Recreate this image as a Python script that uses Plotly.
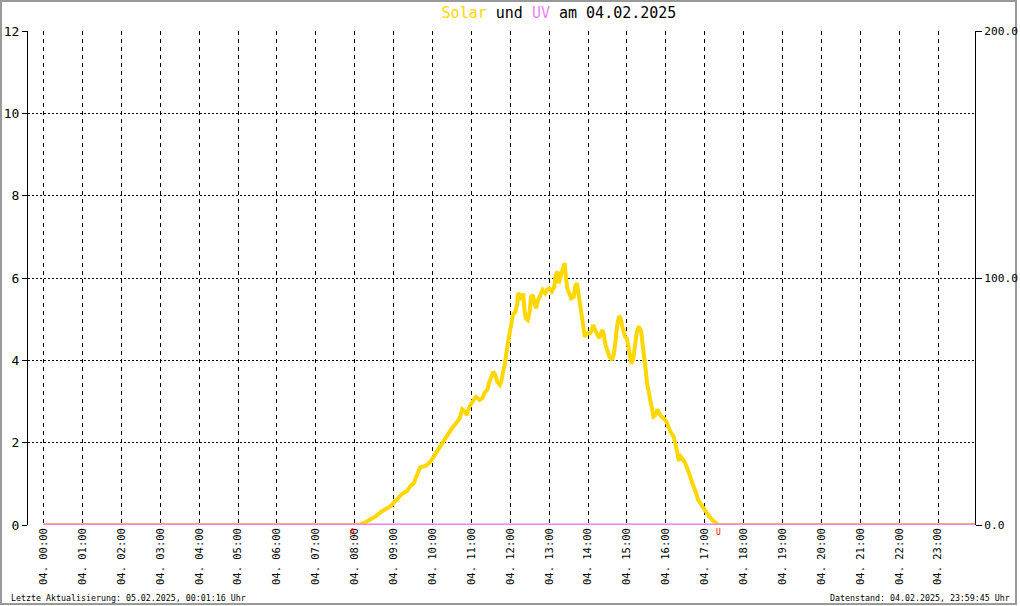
import plotly.graph_objects as go

DAY = "2025-02-04"

# Solar radiation (W/m², right axis)
solar_times = ["00:00", "08:07", "08:18", "08:25", "08:33", "08:41", "08:48", "08:56",
               "09:00", "09:06", "09:14", "09:21", "09:26", "09:31", "09:36", "09:41", "09:49", "09:57",
               "10:02", "10:09", "10:14", "10:19", "10:24", "10:30", "10:37", "10:42", "10:46", "10:50", "10:53", "10:56",
               "11:00", "11:05", "11:07", "11:13", "11:17", "11:20", "11:25", "11:27", "11:31", "11:34", "11:37",
               "11:40", "11:44", "11:46", "11:49", "11:52", "11:55", "11:59",
               "12:02", "12:04", "12:08", "12:11", "12:12", "12:15", "12:18", "12:20", "12:22", "12:24", "12:27",
               "12:30", "12:32", "12:35", "12:38", "12:40", "12:43", "12:47", "12:50", "12:54", "12:57",
               "13:00", "13:04", "13:08", "13:10", "13:13", "13:15", "13:19", "13:22", "13:24", "13:26", "13:28",
               "13:31", "13:34", "13:38", "13:40", "13:43", "13:45", "13:48", "13:50", "13:53", "13:55", "13:59",
               "14:03", "14:06", "14:08", "14:11", "14:14", "14:17", "14:22", "14:24", "14:27", "14:29", "14:33",
               "14:37", "14:40", "14:42", "14:45", "14:48", "14:50", "14:53", "14:57",
               "15:00", "15:03", "15:07", "15:10", "15:12", "15:15", "15:18", "15:22", "15:24", "15:27", "15:29",
               "15:31", "15:33", "15:35", "15:38", "15:41", "15:44", "15:47", "15:50", "15:53", "15:57",
               "16:01", "16:04", "16:07", "16:12", "16:15", "16:18", "16:20", "16:23", "16:27", "16:30", "16:34",
               "16:38", "16:42", "16:46", "16:50", "16:55", "16:59",
               "17:03", "17:07", "17:12", "17:17", "17:21", "23:59"]
solar_values = [0, 0, 1.3, 2.3, 3.6, 5.4, 6.5, 7.7,
                9.0, 10.8, 12.8, 13.8, 15.8, 16.9, 20.2, 23.4, 23.9, 25.6,
                27.7, 30.7, 32.4, 34.8, 37.1, 39.2, 41.4, 43.2, 46.8, 45.9, 44.5, 47.3,
                49.3, 51.5, 51.9, 50.6, 51.3, 53.3, 54.9, 57.4, 60.0, 62.1, 60.7,
                58.0, 56.7, 58.0, 61.9, 65.6, 71.5, 77.6,
                81.7, 85.0, 86.4, 89.8, 93.8, 93.1, 91.1, 93.8, 87.0, 83.7, 83.0,
                86.4, 92.4, 93.1, 89.1, 87.7, 91.1, 93.8, 95.1, 93.8, 95.4,
                95.8, 94.5, 96.5, 101.2, 102.6, 97.9, 101.9, 104.6, 106.0, 99.9, 95.8,
                93.8, 91.8, 92.4, 96.5, 97.9, 94.5, 89.8, 84.3, 79.0, 76.2, 77.6,
                77.6, 79.0, 81.0, 79.0, 76.9, 75.6, 79.0, 77.6, 72.9, 70.9, 68.1,
                66.8, 69.5, 73.6, 81.0, 84.6, 83.7, 80.3, 76.2,
                75.6, 71.7, 65.2, 67.6, 72.5, 77.7, 80.4, 78.5, 73.6, 68.0, 62.8,
                57.4, 54.7, 50.6, 46.6, 43.9, 44.5, 46.8, 45.2, 43.9, 43.2,
                41.8, 39.8, 37.8, 35.8, 33.1, 29.0, 26.0, 27.7, 26.3, 25.0, 22.3,
                18.9, 16.2, 13.5, 10.1, 8.1, 6.4,
                5.0, 3.4, 2.0, 0.7, 0, 0]

# UV index (left axis)
uv_times = ["00:00", "23:59"]
uv_values = [0.0, 0.0]

uv_ticks = [0, 2, 4, 6, 8, 10, 12]
solar_ticks = [0, 100, 200]
solar_ticklabels = ["0.0", "100.0", "200.0"]
hour_labels = [f"{h:02d}:00" for h in range(24)]
sunrise, sunset = "07:56", "17:22"

MONO = "DejaVu Sans Mono"
W, H = 1020, 606
ML, MR, MT, MB = 28, 45, 31, 81
PW, PH = W - ML - MR, H - MT - MB


def px_x(p):
    return (p - ML) / PW


def px_y(p):
    return (H - MB - p) / PH


fig = go.Figure()
fig.add_trace(go.Scatter(
    x=[f"{DAY} {t}" for t in solar_times], y=solar_values, yaxis="y",
    mode="lines", line=dict(color="#FFD700", width=4), name="Solar",
    showlegend=False))
fig.add_trace(go.Scatter(
    x=[f"{DAY} {t}" for t in uv_times], y=uv_values, yaxis="y2",
    mode="lines", line=dict(color="#EE82EE", width=3), name="UV",
    showlegend=False))

annotations = [
    dict(text="Letzte Aktualisierung: 05.02.2025, 00:01:16 Uhr", xref="paper", yref="paper",
         x=px_x(9), y=px_y(598), xanchor="left", yanchor="middle", showarrow=False,
         font=dict(family=MONO, size=8.3, color="black")),
    dict(text="Datenstand: 04.02.2025, 23:59:45 Uhr", xref="paper", yref="paper",
         x=px_x(1012), y=px_y(598), xanchor="right", yanchor="middle", showarrow=False,
         font=dict(family=MONO, size=8.3, color="black")),
    dict(text="A", xref="x", yref="paper", x=f"{DAY} {sunrise}", y=0, yanchor="top",
         yshift=-1, showarrow=False, font=dict(family=MONO, size=8, color="red")),
    dict(text="U", xref="x", yref="paper", x=f"{DAY} {sunset}", y=0, yanchor="top",
         yshift=-1, showarrow=False, font=dict(family=MONO, size=8, color="red")),
]

fig.update_layout(
    width=W, height=H,
    margin=dict(l=ML, r=MR, t=MT, b=MB, pad=0, autoexpand=False),
    paper_bgcolor="white", plot_bgcolor="white",
    title=dict(
        text="<span style='color:#FFD700'>Solar</span> und <span style='color:#EE82EE'>UV</span> am 04.02.2025",
        x=559 / W, xanchor="center", y=1 - 13 / H, yanchor="middle",
        font=dict(family=MONO, size=15, color="black")),
    xaxis=dict(
        type="date", range=["2025-02-03 23:36", "2025-02-04 23:57"],
        tickmode="array", tickvals=[f"{DAY} {h}" for h in hour_labels],
        ticktext=[f"04. {h}" for h in hour_labels], tickangle=-90,
        showgrid=True, gridcolor="black", gridwidth=1, griddash="4px,4px",
        zeroline=False, showline=False, ticks="", automargin=False,
        tickfont=dict(family=MONO, size=10.5, color="black")),
    yaxis=dict(
        side="right", range=[0, 200], tickmode="array", tickvals=solar_ticks,
        ticktext=solar_ticklabels, ticks="outside", ticklen=6, tickcolor="black",
        showline=True, linecolor="black", linewidth=1, showgrid=False, zeroline=False,
        automargin=False, tickfont=dict(family=MONO, size=11.2, color="black")),
    yaxis2=dict(
        side="left", overlaying="y", range=[0, 12], tickmode="array", tickvals=uv_ticks,
        ticks="outside", ticklen=5, tickcolor="black",
        showline=True, linecolor="black", linewidth=1, automargin=False,
        showgrid=True, gridcolor="black", gridwidth=1, griddash="2px,2px", zeroline=False,
        tickfont=dict(family=MONO, size=13, color="black")),
    annotations=annotations,
    shapes=[dict(type="rect", xref="paper", yref="paper",
                 x0=px_x(1), x1=px_x(1016), y0=px_y(604), y1=px_y(1),
                 line=dict(color="#999999", width=2), layer="below")],
)

post = (
    "document.documentElement.style.margin='0';"
    "document.documentElement.style.padding='0';"
    "document.documentElement.style.overflow='hidden';"
    "document.body.style.margin='0';"
    "document.body.style.padding='0';"
    "document.body.style.overflow='hidden';"
    "var gd=document.getElementById('{plot_id}');"
    "gd.style.position='fixed';gd.style.left='0px';gd.style.top='0px';"
)
fig.write_html("out.html", post_script=post, config={"displayModeBar": False})
